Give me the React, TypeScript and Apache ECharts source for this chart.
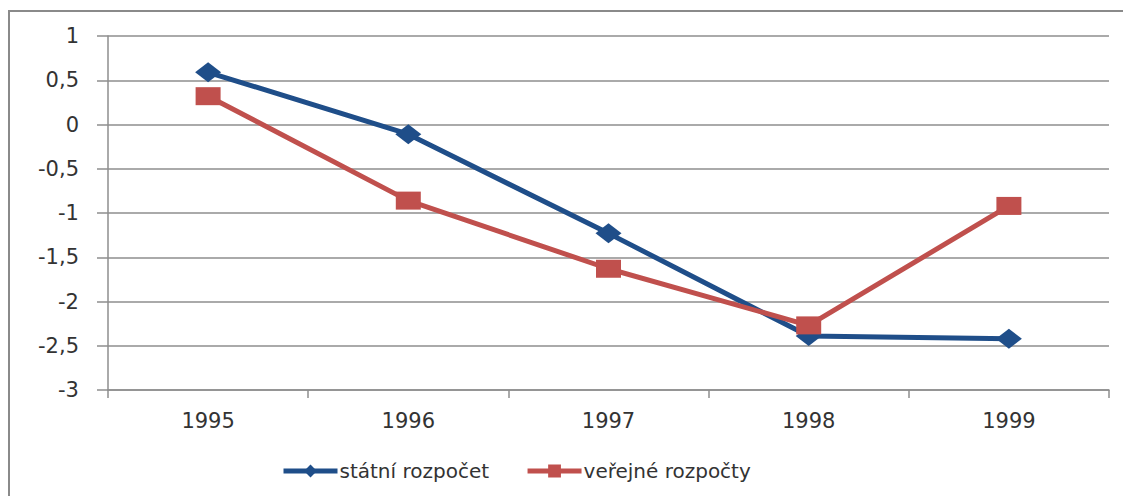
import React, { useEffect, useRef } from "react";
import * as echarts from "echarts";

const categories = ["1995", "1996", "1997", "1998", "1999"];
const statniRozpocet = [0.59, -0.11, -1.23, -2.39, -2.42];
const verejneRozpocty = [0.32, -0.86, -1.63, -2.27, -0.92];
const seriesNames = ["státní rozpočet", "veřejné rozpočty"];
const yMin = -3;
const yMax = 1;
const yStep = 0.5;

export default function App() {
  const ref = useRef<HTMLDivElement>(null);
  useEffect(() => {
    if (!ref.current) return;
    const chart = echarts.init(ref.current, undefined, { renderer: "svg" });
    const font = "DejaVu Sans";
    const gridColor = "#8e8e8e";
    chart.setOption({
      animation: false,
      backgroundColor: "#ffffff",
      graphic: [
        {
          type: "rect",
          shape: { x: 1, y: 3, width: 1200, height: 600 },
          style: { fill: "none", stroke: "#8a8a8a", lineWidth: 2 },
          silent: true,
        },
      ],
      grid: { left: 100, top: 28, right: 22, bottom: 106 },
      legend: {
        left: 268,
        top: 448,
        itemWidth: 54,
        itemHeight: 16,
        itemGap: 36,
        lineStyle: { width: 5 },
        textStyle: { fontFamily: font, fontSize: 20, color: "#333333", padding: [0, 0, 0, -3] },
        data: seriesNames,
      },
      xAxis: {
        type: "category",
        data: categories,
        boundaryGap: true,
        axisLine: { onZero: false, lineStyle: { color: gridColor, width: 1.5 } },
        axisTick: { show: true, length: 8, lineStyle: { color: gridColor, width: 1.5 } },
        axisLabel: { margin: 20, fontFamily: font, fontSize: 21, color: "#333333" },
      },
      yAxis: {
        type: "value",
        min: yMin,
        max: yMax,
        interval: yStep,
        axisLine: { show: true, lineStyle: { color: gridColor, width: 1.5 } },
        axisTick: { show: true, length: 11, lineStyle: { color: gridColor, width: 1.5 } },
        splitLine: { lineStyle: { color: gridColor, width: 1.5 } },
        axisLabel: {
          margin: 29,
          fontFamily: font,
          fontSize: 21,
          color: "#333333",
          formatter: (v: number) => String(v).replace(".", ","),
        },
      },
      series: [
        {
          name: seriesNames[0],
          type: "line",
          data: statniRozpocet,
          symbol: "diamond",
          symbolSize: [26, 20],
          lineStyle: { color: "#1f4e89", width: 5 },
          itemStyle: { color: "#1f4e89" },
        },
        {
          name: seriesNames[1],
          type: "line",
          data: verejneRozpocty,
          symbol: "rect",
          symbolSize: [25, 18],
          lineStyle: { color: "#c0504d", width: 5 },
          itemStyle: { color: "#c0504d" },
        },
      ],
    });
    return () => chart.dispose();
  }, []);
  return <div ref={ref} style={{ width: 1123, height: 488 }} />;
}
